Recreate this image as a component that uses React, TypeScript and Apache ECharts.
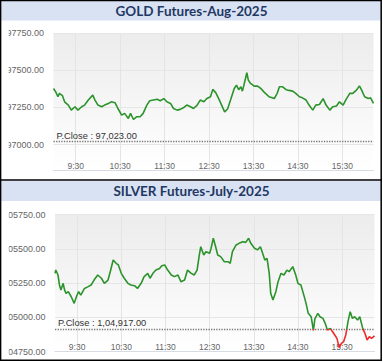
import React, { useEffect, useRef } from "react";
import * as echarts from "echarts";

const titles = ["GOLD Futures-Aug-2025", "SILVER Futures-July-2025"];

const xTickLabels = ["9:30", "10:30", "11:30", "12:30", "13:30", "14:30", "15:30"];

const goldYTicks = [97000, 97250, 97500, 97750];
const goldYRange = [96825, 97750];
const silverYTicks = [104750, 105000, 105250, 105500, 105750];
const silverYRange = [104750, 105750];

const pCloseValues = [97023, 104917];
const pCloseLabels = ["P.Close : 97,023.00", "P.Close : 1,04,917.00"];

const goldTimes = [
  "9:00", "9:03", "9:06", "9:08", "9:12", "9:15", "9:20", "9:24", "9:29", "9:33",
  "9:38", "9:42", "9:47", "9:53", "9:56", "10:00", "10:05", "10:09", "10:14", "10:18",
  "10:23", "10:27", "10:32", "10:36", "10:41", "10:44", "10:48", "10:52", "10:57", "11:01",
  "11:06", "11:10", "11:15", "11:20", "11:24", "11:29", "11:33", "11:38", "11:42", "11:47",
  "11:51", "11:56", "12:00", "12:05", "12:09", "12:14", "12:18", "12:23", "12:27", "12:32",
  "12:35", "12:39", "12:43", "12:45", "12:51", "12:55", "12:59", "13:04", "13:07", "13:10",
  "13:13", "13:15", "13:17", "13:21", "13:23", "13:26", "13:31", "13:35", "13:40", "13:44",
  "13:51", "13:58", "14:02", "14:05", "14:09", "14:14", "14:18", "14:23", "14:27", "14:32",
  "14:36", "14:41", "14:45", "14:50", "14:54", "14:59", "15:04", "15:08", "15:13", "15:17",
  "15:22", "15:26", "15:31", "15:35", "15:40", "15:44", "15:49", "15:53", "15:56", "16:00",
  "16:05", "16:08", "16:12",
];
const goldValues = [
  97378, 97355, 97322, 97345, 97330, 97288, 97266, 97232, 97255, 97232,
  97255, 97266, 97300, 97333, 97300, 97266, 97255, 97266, 97277, 97288,
  97282, 97243, 97198, 97210, 97176, 97210, 97169, 97187, 97187, 97210,
  97266, 97295, 97300, 97305, 97295, 97310, 97288, 97277, 97243, 97232,
  97237, 97250, 97266, 97255, 97243, 97266, 97300, 97288, 97310, 97322,
  97372, 97350, 97310, 97288, 97220, 97240, 97300, 97378, 97400, 97370,
  97390, 97360, 97400, 97484, 97434, 97412, 97394, 97395, 97378, 97355,
  97322, 97310, 97345, 97390, 97390, 97370, 97365, 97360, 97345, 97322,
  97315, 97300, 97266, 97232, 97266, 97270, 97310, 97266, 97232, 97255,
  97260, 97288, 97266, 97305, 97345, 97345, 97367, 97395, 97367, 97322,
  97310, 97315, 97277,
];

const silverTimes = [
  "9:00", "9:01", "9:04", "9:06", "9:08", "9:11", "9:13", "9:15", "9:18", "9:22",
  "9:26", "9:29", "9:32", "9:35", "9:40", "9:45", "9:49", "9:53", "9:58", "10:03",
  "10:07", "10:12", "10:15", "10:19", "10:23", "10:26", "10:30", "10:34", "10:39", "10:43",
  "10:48", "10:52", "10:57", "11:01", "11:06", "11:09", "11:13", "11:17", "11:22", "11:25",
  "11:29", "11:33", "11:38", "11:42", "11:47", "11:51", "11:56", "12:00", "12:05", "12:09",
  "12:13", "12:16", "12:18", "12:22", "12:25", "12:30", "12:32", "12:35", "12:38", "12:41",
  "12:45", "12:50", "12:55", "12:58", "13:01", "13:06", "13:10", "13:15", "13:19", "13:23",
  "13:26", "13:31", "13:35", "13:39", "13:42", "13:45", "13:48", "13:51", "13:53", "13:56",
  "14:00", "14:03", "14:07", "14:11", "14:15", "14:18", "14:23", "14:27", "14:30", "14:34",
  "14:38", "14:41", "14:44", "14:48", "14:51", "14:53", "14:57", "15:00", "15:04", "15:07",
  "15:10", "15:14", "15:17", "15:20", "15:23", "15:26", "15:29", "15:32", "15:35", "15:38",
  "15:41", "15:44", "15:47", "15:51", "15:54", "15:58", "16:01", "16:04", "16:07", "16:10",
  "16:14",
];
const silverValues = [
  105322, 105346, 105310, 105237, 105200, 105249, 105200, 105176, 105188, 105151,
  105103, 105151, 105188, 105163, 105212, 105225, 105237, 105273, 105310, 105286,
  105249, 105273, 105334, 105419, 105395, 105383, 105322, 105286, 105249, 105237,
  105232, 105212, 105249, 105298, 105322, 105286, 105322, 105346, 105358, 105378,
  105383, 105346, 105310, 105298, 105310, 105261, 105273, 105346, 105322, 105310,
  105346, 105456, 105516, 105456, 105480, 105468, 105505, 105578, 105520, 105456,
  105444, 105407, 105407, 105395, 105480, 105529, 105541, 105553, 105548, 105578,
  105541, 105505, 105493, 105516, 105468, 105419, 105431, 105322, 105176, 105127,
  105188, 105261, 105322, 105310, 105346, 105334, 105371, 105310, 105249, 105237,
  105163, 105103, 105030, 105005, 104905, 104990, 105030, 105005, 104993, 104957,
  104908, 104920, 104896, 104872, 104847, 104780, 104811, 104823, 104872, 104969,
  105042, 104993, 105005, 104981, 105005, 104920, 104884, 104835, 104860, 104847,
  104865,
];

const GREEN = "#2b932b";
const RED = "#ee2a2a";
const LABEL_FONT = "'Liberation Sans', Arial, sans-serif";

const toMin = (s: string) => {
  const [h, m] = s.split(":").map(Number);
  return h * 60 + m;
};
const fmtMin = (v: number) => {
  const h = Math.floor(v / 60);
  const m = Math.round(v - h * 60);
  return `${h}:${m < 10 ? "0" + m : m}`;
};

export default function App() {
  const ref = useRef<HTMLDivElement>(null);

  useEffect(() => {
    if (!ref.current) return;
    const chart = echarts.init(ref.current, undefined, { renderer: "svg" });

    const xTicks = xTickLabels.map(toMin);
    const series = [
      { times: goldTimes, values: goldValues },
      { times: silverTimes, values: silverValues },
    ];
    const yTicks = [goldYTicks, silverYTicks];
    const yRanges = [goldYRange, silverYRange];
    const grids = [
      { left: 53.5, top: 33.3, width: 320, height: 137.2 },
      { left: 53.5, top: 214.7, width: 321, height: 137 },
    ];

    const bg = {
      type: "linear",
      x: 0,
      y: 0,
      x2: 0,
      y2: 1,
      colorStops: [
        { offset: 0, color: "#ececec" },
        { offset: 1, color: "#ffffff" },
      ],
    };

    const option: any = {
      animation: false,
      backgroundColor: "#ffffff",
      title: titles.map((t, i) => ({
        text: t,
        left: "center",
        top: i === 0 ? 3 : 183,
        padding: 0,
        z: 10,
        textStyle: {
          fontFamily: "Lato, 'Open Sans', sans-serif",
          fontWeight: "bold",
          fontSize: 13.5,
          lineHeight: 16,
          color: "#1f3864",
        },
      })),
      grid: grids.map((g) => ({
        ...g,
        show: true,
        backgroundColor: bg,
        borderWidth: 0,
        containLabel: false,
      })),
      xAxis: series.map((s, i) => ({
        type: "value",
        gridIndex: i,
        min: toMin(s.times[0]),
        max: toMin(s.times[s.times.length - 1]),
        axisLine: { show: true, lineStyle: { color: "#d6dbe4", width: 1 } },
        axisTick: { show: false, customValues: xTicks },
        axisLabel: {
          customValues: xTicks,
          inside: true,
          margin: 0,
          formatter: (v: number) => fmtMin(v),
          color: "#666",
          fontSize: 8.5,
          fontFamily: LABEL_FONT,
        },
        splitLine: { show: true, lineStyle: { color: "#e4e4e4", width: 1 } },
      })),
      yAxis: series.map((s, i) => ({
        type: "value",
        gridIndex: i,
        min: yRanges[i][0],
        max: yRanges[i][1],
        axisLine: { show: false },
        axisTick: { show: false, customValues: yTicks[i] },
        axisLabel: {
          customValues: yTicks[i],
          margin: 9.5,
          formatter: (v: number) => v.toFixed(2),
          color: "#666",
          fontSize: 9,
          fontFamily: LABEL_FONT,
        },
        splitLine: { show: true, lineStyle: { color: "#e6e6e6", width: 1 } },
      })),
      visualMap: series.map((s, i) => ({
        type: "piecewise",
        show: false,
        seriesIndex: i,
        dimension: 1,
        pieces: [
          { gte: 0, lt: pCloseValues[i], color: RED },
          { gte: pCloseValues[i], color: GREEN },
        ],
      })),
      series: series.map((s, i) => ({
        type: "line",
        xAxisIndex: i,
        yAxisIndex: i,
        showSymbol: false,
        symbol: "none",
        lineStyle: { width: 1.6 },
        data: s.times.map((t, k) => [toMin(t), s.values[k]]),
        z: 5,
        markLine: {
          silent: true,
          symbol: ["none", "none"],
          lineStyle: { type: "dotted", color: "#777", width: 1.3 },
          label: {
            position: "insideStartTop",
            formatter: pCloseLabels[i],
            color: "#333",
            fontSize: 9.3,
            fontFamily: LABEL_FONT,
            distance: [3, 1],
          },
          data: [{ yAxis: pCloseValues[i] }],
        },
      })),
      graphic: [
        { type: "rect", z: 1, shape: { x: 1, y: 1, width: 380, height: 19.5 }, style: { fill: "#d9e2f3" } },
        { type: "rect", z: 1, shape: { x: 1, y: 181, width: 380, height: 20 }, style: { fill: "#d9e2f3" } },
        { type: "rect", z: 100, shape: { x: 1, y: 22, width: 7.7, height: 156 }, style: { fill: "#ffffff" } },
        { type: "rect", z: 100, shape: { x: 1, y: 203, width: 7.7, height: 155 }, style: { fill: "#ffffff" } },
        { type: "line", z: 101, shape: { x1: 0, y1: 180, x2: 382, y2: 180 }, style: { stroke: "#000", lineWidth: 1.7 } },
        {
          type: "rect",
          z: 101,
          shape: { x: 0.6, y: 0.6, width: 380.6, height: 359.6 },
          style: { fill: "none", stroke: "#000", lineWidth: 1.5 },
        },
      ],
    };

    chart.setOption(option);
    return () => chart.dispose();
  }, []);

  return (
    <div
      ref={ref}
      style={{ position: "absolute", left: 0, top: 0, width: 383, height: 362, background: "#fff" }}
    />
  );
}
